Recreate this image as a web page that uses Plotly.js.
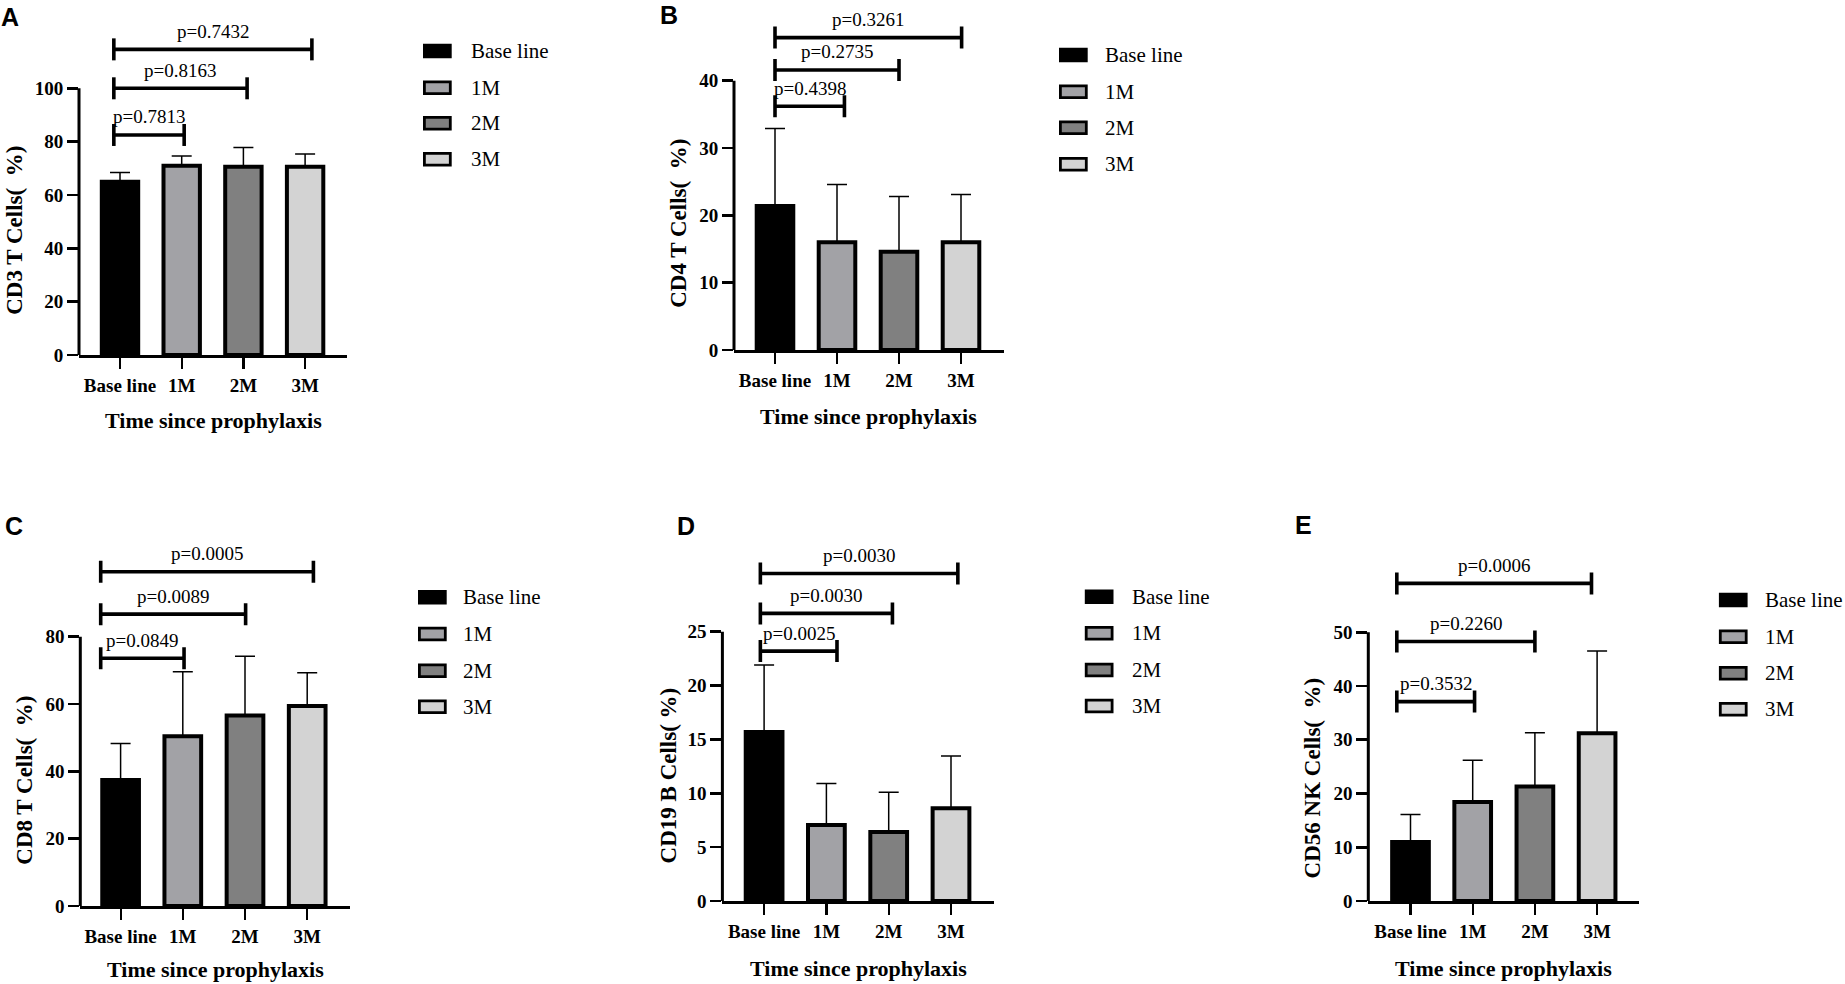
<!DOCTYPE html>
<html>
<head>
<meta charset="utf-8">
<script src="https://cdn.plot.ly/plotly-3.0.1.min.js"></script>
<style>
html,body{margin:0;padding:0;background:#ffffff;}
#chart{width:1845px;height:984px;}
</style>
</head>
<body>
<div id="chart"></div>
<script>
// ---------------- DATA ----------------
const categories = ['Base line', '1M', '2M', '3M'];
const panelLetters = ['A', 'B', 'C', 'D', 'E'];
const yTitles = ['CD3 T Cells(\u00a0\u00a0%)', 'CD4 T Cells(\u00a0\u00a0%)', 'CD8 T Cells(\u00a0\u00a0%)', 'CD19 B Cells(\u00a0%)', 'CD56 NK Cells(\u00a0\u00a0%)'];
const xTitle = 'Time since prophylaxis';

const cd3Mean  = [65.0, 71.0, 70.6, 70.6];
const cd3Sd    = [3.4, 3.6, 7.2, 4.8];
const cd4Mean  = [21.4, 16.0, 14.6, 16.0];
const cd4Sd    = [11.5, 8.6, 8.2, 7.1];
const cd8Mean  = [37.4, 50.4, 56.6, 59.4];
const cd8Sd    = [10.9, 19.2, 17.6, 9.9];
const cd19Mean = [15.7, 7.05, 6.4, 8.6];
const cd19Sd   = [6.2, 3.85, 3.7, 4.85];
const cd56Mean = [11.0, 18.4, 21.3, 31.2];
const cd56Sd   = [5.1, 7.8, 10.0, 15.3];

// comparisons vs Base line: 1M, 2M, 3M
const compareWith = [1, 2, 3];
const cd3P  = ['p=0.7813', 'p=0.8163', 'p=0.7432'];
const cd3PLevel  = [82.5, 100, 114.6];
const cd4P  = ['p=0.4398', 'p=0.2735', 'p=0.3261'];
const cd4PLevel  = [36.2, 41.6, 46.4];
const cd8P  = ['p=0.0849', 'p=0.0089', 'p=0.0005'];
const cd8PLevel  = [73.6, 86.7, 99.3];
const cd19P = ['p=0.0025', 'p=0.0030', 'p=0.0030'];
const cd19PLevel = [23.2, 26.7, 30.4];
const cd56P = ['p=0.3532', 'p=0.2260', 'p=0.0006'];
const cd56PLevel = [37.1, 48.3, 59.1];

const yTickTop  = [100, 40, 80, 25, 50];
const yTickStep = [20, 10, 20, 5, 10];

// ---------------- STYLE / LAYOUT ----------------
const W = 1845, H = 984;
const barColors = ['#000000', '#a2a2a6', '#808080', '#d3d3d3'];
const serif = 'Liberation Serif, Times New Roman, serif';
const sans = 'Liberation Sans, Arial, sans-serif';

// pixel geometry of each panel
const geo = [
  {left: 79,    right: 347,    zero: 355, top: 88.3,  c0: 120,    sp: 61.7, domTop: 12,  bx0: -0.10, bx1: [0.04, 0.06, 0.11],
   ytx: 13.8, yty: 230, xty: 420.7, lx: 423, ltx: 468.6, ly: [51, 87.7, 123.3, 159.3], let: [10, 16.7]},
  {left: 734,   right: 1003.5, zero: 350, top: 80.7,  c0: 775,    sp: 62.0, domTop: 12,  bx0: 0.0,   bx1: [0.12, 0.0, 0.01],
   ytx: 678.5, yty: 223.3, xty: 416, lx: 1059, ltx: 1103.2, ly: [55, 91.7, 127.7, 164.3], let: [669.4, 15]},
  {left: 80.3,  right: 350,    zero: 906, top: 636.7, c0: 120.6,  sp: 62.2, domTop: 545, bx0: -0.32, bx1: [0.02, 0.01, 0.10],
   ytx: 23.7, yty: 780, xty: 969.5, lx: 418, ltx: 461.4, ly: [597.3, 634, 670.7, 706.7], let: [14, 526]},
  {left: 722.4, right: 993.7,  zero: 901, top: 631.7, c0: 764.1,  sp: 62.3, domTop: 545, bx0: -0.06, bx1: [0.17, 0.06, 0.11],
   ytx: 668.4, yty: 775, xty: 968, lx: 1084.8, ltx: 1129.6, ly: [596.7, 633.3, 670, 706], let: [686.2, 526]},
  {left: 1368.3, right: 1639.3, zero: 901, top: 632.3, c0: 1410.5, sp: 62.2, domTop: 545, bx0: -0.22, bx1: [0.03, 0.0, -0.09],
   ytx: 1312.4, yty: 778, xty: 968, lx: 1718.9, ltx: 1762.9, ly: [600, 636.7, 673.3, 709.3], let: [1303, 525]}
];

const means = [cd3Mean, cd4Mean, cd8Mean, cd19Mean, cd56Mean];
const sds = [cd3Sd, cd4Sd, cd8Sd, cd19Sd, cd56Sd];
const pTexts = [cd3P, cd4P, cd8P, cd19P, cd56P];
const pLevels = [cd3PLevel, cd4PLevel, cd8PLevel, cd19PLevel, cd56PLevel];

const traces = [];
const shapes = [];
const annotations = [];
const layout = {
  width: W, height: H,
  margin: {l: 0, r: 0, t: 0, b: 0},
  paper_bgcolor: '#ffffff', plot_bgcolor: 'rgba(0,0,0,0)',
  showlegend: false,
  font: {family: serif, color: '#000000'}
};

for (let p = 0; p < 5; p++) {
  const g = geo[p];
  const sfx = p === 0 ? '' : String(p + 1);
  const xa = 'x' + sfx, ya = 'y' + sfx;
  const ppu = (g.zero - g.top) / yTickTop[p];
  const yMax = (g.zero - g.domTop) / ppu;
  const xMin = (g.left - g.c0) / g.sp, xMax = (g.right - g.c0) / g.sp;

  traces.push({
    type: 'bar', x: categories, y: means[p], xaxis: xa, yaxis: ya,
    width: 0.59,
    marker: {color: barColors, line: {color: '#000000', width: 4}},
    error_y: {type: 'data', symmetric: false, array: sds[p], arrayminus: sds[p].map(() => 0),
              color: '#000000', thickness: 1.5, width: 10},
    hoverinfo: 'x+y'
  });

  const tv = [];
  for (let v = 0; v <= yTickTop[p] + 1e-9; v += yTickStep[p]) tv.push(v);

  layout['xaxis' + sfx] = {
    domain: [g.left / W, g.right / W], anchor: ya, type: 'category',
    range: [xMin, xMax], fixedrange: true,
    showline: true, linecolor: '#000000', linewidth: 3,
    ticks: 'outside', ticklen: 11, tickwidth: 2.2, tickcolor: '#000000',
    showgrid: false, zeroline: false,
    tickfont: {family: serif, size: 19, weight: 'bold', color: '#000000'}
  };
  layout['yaxis' + sfx] = {
    domain: [1 - g.zero / H, 1 - g.domTop / H], anchor: xa,
    range: [0, yMax], fixedrange: true,
    showline: false, showgrid: false, zeroline: false,
    tickmode: 'array', tickvals: tv, ticktext: tv.map(String),
    ticks: 'outside', ticklen: 11, tickwidth: 2.6, tickcolor: '#000000',
    tickfont: {family: serif, size: 19, weight: 'bold', color: '#000000'}
  };

  // y axis line only up to top tick
  shapes.push({type: 'line', xref: xa + ' domain', yref: ya, x0: 0, x1: 0, y0: 0, y1: yTickTop[p],
               line: {color: '#000000', width: 3}});

  // significance brackets
  const dv = 11 / ppu;
  for (let i = 0; i < compareWith.length; i++) {
    const x0 = g.bx0, x1 = compareWith[i] + g.bx1[i], yv = pLevels[p][i];
    const ln = {color: '#000000', width: 3.6};
    shapes.push({type: 'line', xref: xa, yref: ya, x0: x0, x1: x1, y0: yv, y1: yv, line: ln});
    shapes.push({type: 'line', xref: xa, yref: ya, x0: x0, x1: x0, y0: yv - dv, y1: yv + dv, line: ln});
    shapes.push({type: 'line', xref: xa, yref: ya, x0: x1, x1: x1, y0: yv - dv, y1: yv + dv, line: ln});
    annotations.push({xref: xa, yref: ya, x: (x0 + x1) / 2, y: yv, yshift: 18, showarrow: false,
                      text: pTexts[p][i], xanchor: 'center', yanchor: 'middle',
                      font: {family: serif, size: 19, color: '#000000'}});
  }

  // y title
  annotations.push({xref: 'paper', yref: 'paper', x: g.ytx / W, y: 1 - g.yty / H, textangle: -90,
                    showarrow: false, xanchor: 'center', yanchor: 'middle', text: yTitles[p],
                    font: {family: serif, size: 23, weight: 'bold', color: '#000000'}});
  // x title
  annotations.push({xref: 'paper', yref: 'paper', x: (g.left + g.right) / 2 / W, y: 1 - g.xty / H,
                    showarrow: false, xanchor: 'center', yanchor: 'middle', text: xTitle,
                    font: {family: serif, size: 22, weight: 'bold', color: '#000000'}});
  // panel letter
  annotations.push({xref: 'paper', yref: 'paper', x: g.let[0] / W, y: 1 - g.let[1] / H,
                    showarrow: false, xanchor: 'center', yanchor: 'middle', text: panelLetters[p],
                    font: {family: sans, size: 25, weight: 'bold', color: '#000000'}});

  // legend
  for (let k = 0; k < categories.length; k++) {
    const cy = g.ly[k];
    shapes.push({type: 'rect', xref: 'paper', yref: 'paper',
                 x0: (g.lx + 1.4) / W, x1: (g.lx + 28.7 - 1.4) / W,
                 y0: 1 - (cy + 7.3 - 1.4) / H, y1: 1 - (cy - 7.3 + 1.4) / H,
                 fillcolor: barColors[k], line: {color: '#000000', width: 2.8}});
    annotations.push({xref: 'paper', yref: 'paper', x: g.ltx / W, y: 1 - cy / H,
                      showarrow: false, xanchor: 'left', yanchor: 'middle', text: categories[k],
                      font: {family: serif, size: 21, color: '#000000'}});
  }
}

layout.shapes = shapes;
layout.annotations = annotations;

Plotly.newPlot('chart', traces, layout, {displayModeBar: false, staticPlot: true});
</script>
</body>
</html>
